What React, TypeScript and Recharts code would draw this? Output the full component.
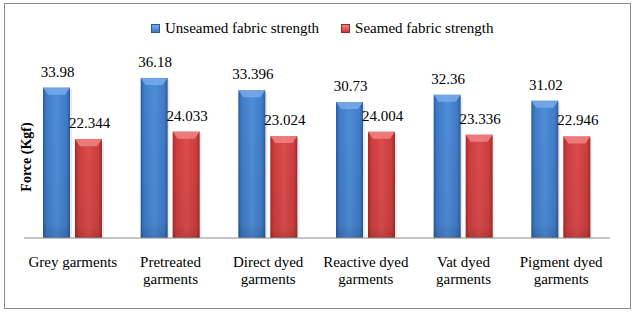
import React from "react";
import { BarChart, Bar, XAxis, YAxis, LabelList, Legend } from "recharts";

const categories = [
  "Grey garments",
  "Pretreated\ngarments",
  "Direct dyed\ngarments",
  "Reactive dyed\ngarments",
  "Vat dyed\ngarments",
  "Pigment dyed\ngarments",
];
const unseamed = [33.98, 36.18, 33.396, 30.73, 32.36, 31.02];
const seamed = [22.344, 24.033, 23.024, 24.004, 23.336, 22.946];
const seriesNames = ["Unseamed fabric strength", "Seamed fabric strength"];
const yLabel = "Force (Kgf)";

const data = categories.map((c, i) => ({ name: c, unseamed: unseamed[i], seamed: seamed[i] }));

const FONT = '"Liberation Serif", "Times New Roman", serif';

const palettes: Record<string, { dark: string; mid: string; light: string; top: string }> = {
  unseamed: { dark: "#2b5a9c", mid: "#3f7bc8", light: "#4f8ed8", top: "#79aaeb" },
  seamed: { dark: "#9e2b2b", mid: "#cc3d3d", light: "#dc4c4c", top: "#f08484" },
};

const BevelBar = (props: any) => {
  const { x, y, width, height, index, seriesKey } = props;
  const p = palettes[seriesKey];
  const id = `g-${seriesKey}-${index}`;
  const b = Math.min(5, width / 4);
  const bh = 7;
  return (
    <g>
      <defs>
        <linearGradient id={id} x1="0" y1="0" x2="1" y2="0">
          <stop offset="0" stopColor={p.dark} />
          <stop offset="0.12" stopColor={p.mid} />
          <stop offset="0.5" stopColor={p.light} />
          <stop offset="0.88" stopColor={p.mid} />
          <stop offset="1" stopColor={p.dark} />
        </linearGradient>
        <linearGradient id={id + "v"} x1="0" y1="0" x2="0" y2="1">
          <stop offset="0" stopColor="#000" stopOpacity="0" />
          <stop offset="0.9" stopColor="#000" stopOpacity="0.05" />
          <stop offset="1" stopColor="#000" stopOpacity="0.15" />
        </linearGradient>
      </defs>
      <rect x={x + 2} y={y + 2} width={width} height={height - 2} fill="#000" opacity={0.08} />
      <rect x={x} y={y} width={width} height={height} fill={`url(#${id})`} />
      <rect x={x} y={y} width={width} height={height} fill={`url(#${id + "v"})`} />
      <polygon
        points={`${x},${y} ${x + width},${y} ${x + width - b},${y + bh} ${x + b},${y + bh}`}
        fill={p.top}
        opacity={0.85}
      />
    </g>
  );
};

const ValueLabel = (props: any) => {
  const { x, y, width, value } = props;
  return (
    <text x={x + width / 2 + 1} y={y - 11} textAnchor="middle" fontFamily={FONT} fontSize={15} fill="#000">
      {value}
    </text>
  );
};

const CategoryTick = (props: any) => {
  const { x, y, payload } = props;
  const lines = String(payload.value).split("\n");
  return (
    <text x={x} y={y} textAnchor="middle" fontFamily={FONT} fontSize={15} fill="#000">
      {lines.map((l, i) => (
        <tspan key={i} x={x} dy={i === 0 ? 29 : 16.5}>
          {l}
        </tspan>
      ))}
    </text>
  );
};

const LegendContent = () => (
  <div style={{ display: "flex", alignItems: "center", height: 20, fontFamily: FONT, fontSize: 15, color: "#000", paddingLeft: 151 }}>
    {seriesNames.map((n, i) => (
      <div key={n} style={{ display: "flex", alignItems: "center", marginRight: i === 0 ? 22 : 0 }}>
        <span
          style={{
            display: "inline-block",
            width: 7,
            height: 7,
            marginRight: 5,
            background: i === 0 ? "linear-gradient(#79aaeb,#3f7bc8)" : "linear-gradient(#f08484,#cc3d3d)",
            border: `1px solid ${i === 0 ? "#2b5a9c" : "#9e2b2b"}`,
          }}
        />
        <span>{n}</span>
      </div>
    ))}
  </div>
);

export default function App() {
  return (
    <div style={{ position: "absolute", left: 0, top: 0, width: 635, height: 314, background: "#fff" }}>
      <div
        style={{
          position: "absolute",
          left: 4,
          top: 3,
          width: 627,
          height: 306,
          boxSizing: "border-box",
          border: "1px solid #8c8c8c",
        }}
      />
      <div style={{ position: "absolute", left: 0, top: 0 }}>
        <BarChart
          width={635}
          height={314}
          data={data}
          margin={{ top: 41, right: 25, left: 0, bottom: 0 }}
          barSize={27}
          barGap={5}
        >
          <Legend
            verticalAlign="top"
            align="left"
            content={<LegendContent />}
            wrapperStyle={{ top: 18, left: 0, width: 635, height: 20 }}
          />
          <XAxis
            dataKey="name"
            height={76}
            tickLine={false}
            tickSize={0}
            tickMargin={0}
            interval={0}
            axisLine={{ stroke: "#8c8c8c", strokeWidth: 1 }}
            tick={<CategoryTick />}
          />
          <YAxis
            width={24}
            domain={[0, 40]}
            tick={false}
            axisLine={false}
            tickLine={false}
            label={{
              content: () => (
                <text
                  x={31}
                  y={157}
                  transform="rotate(-90 31 157)"
                  textAnchor="middle"
                  fontFamily={FONT}
                  fontSize={14}
                  fontWeight="bold"
                  fill="#000"
                >
                  {yLabel}
                </text>
              ),
            }}
          />
          <Bar dataKey="unseamed" name={seriesNames[0]} isAnimationActive={false} shape={<BevelBar seriesKey="unseamed" />}>
            <LabelList dataKey="unseamed" content={<ValueLabel />} />
          </Bar>
          <Bar dataKey="seamed" name={seriesNames[1]} isAnimationActive={false} shape={<BevelBar seriesKey="seamed" />}>
            <LabelList dataKey="seamed" content={<ValueLabel />} />
          </Bar>
        </BarChart>
      </div>
    </div>
  );
}
